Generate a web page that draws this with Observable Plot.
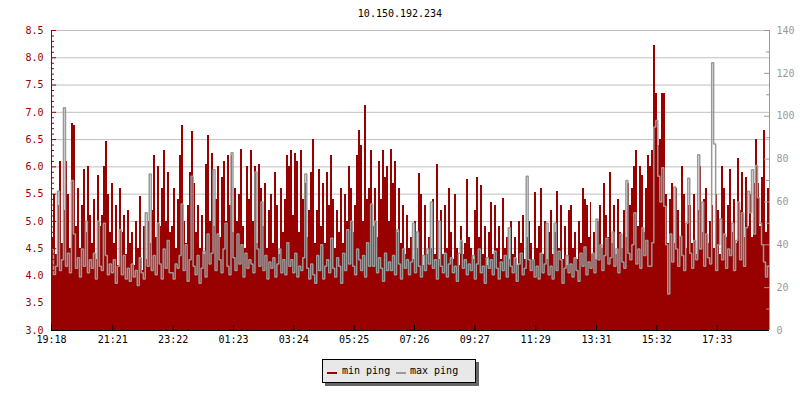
<!DOCTYPE html>
<html><head><meta charset="utf-8">
<script src="https://cdn.jsdelivr.net/npm/d3@7"></script>
<script src="https://cdn.jsdelivr.net/npm/@observablehq/plot@0.6"></script>
<style>
body{margin:0;background:#fff;}
#wrap{position:relative;width:800px;height:400px;font-family:"DejaVu Sans Mono",monospace;}
#title{position:absolute;left:0;top:8px;width:800px;text-align:center;font-size:10px;line-height:12px;color:#000;}
#legend{position:absolute;left:322px;top:359px;width:152px;height:22px;background:#e8e8e8;border:1px solid #000;box-shadow:3px 3px 0 #666;font-size:10px;}
.sw{position:absolute;top:12px;width:10px;height:2px;}
.lt{position:absolute;top:5px;line-height:12px;color:#000;}
</style>
</head><body>
<div id="wrap"><div id="title"></div><div id="chart"></div><div id="legend"></div></div>
<script>
const chartTitle = "10.150.192.234";
const startTime = "19:18";
const stepMinutes = 4;
const seriesNames = ["min ping", "max ping"];
const seriesColors = ["#990000", "#999999"];
const xTickLabels = ["19:18","21:21","23:22","01:23","03:24","05:25","07:26","09:27","11:29","13:31","15:32","17:33"];
const leftTicks = [3.0,3.5,4.0,4.5,5.0,5.5,6.0,6.5,7.0,7.5,8.0,8.5];
const rightTicks = [0,20,40,60,80,100,120,140];
const rightMinor = [10,30,50,70,90,110,130];

const minPing = [
4.7,5.5,4.4,5.3,6.1,4.6,5.2,6.1,5.5,4.5,
6.8,6.75,4.9,5.6,4.5,5.3,5.95,4.8,6.0,5.1,
4.6,5.4,4.3,5.85,4.9,5.1,6.0,6.47,5.5,4.8,
5.7,4.6,5.3,4.2,5.6,4.8,5.1,4.4,5.2,4.6,
4.8,4.2,5.0,4.5,5.45,4.1,4.9,4.3,5.0,4.6,
5.2,6.2,4.7,6.0,4.9,5.6,6.3,5.0,5.9,4.8,
4.9,5.6,4.5,5.4,6.2,6.76,5.0,4.6,5.3,5.9,
6.65,5.7,4.8,5.3,4.5,5.1,4.4,6.05,6.57,5.0,
6.24,4.9,5.4,6.0,4.7,5.8,6.1,5.0,6.2,5.3,
6.2,4.8,5.6,5.0,5.5,6.32,4.9,4.5,6.0,5.4,
6.3,5.0,6.0,4.6,6.05,5.6,4.9,5.7,4.5,5.2,
5.5,4.6,5.9,5.3,4.4,5.6,4.8,5.4,6.2,6.0,
6.3,5.1,6.25,6.1,4.8,6.3,5.4,5.7,4.7,5.2,
5.9,6.5,4.6,5.2,5.95,4.9,5.7,4.6,5.9,5.3,
6.2,5.4,4.5,5.2,4.8,5.6,4.6,5.5,5.0,6.0,
5.6,4.8,5.3,6.2,6.67,6.4,5.0,7.12,5.4,5.6,
6.3,4.9,5.6,4.7,6.1,5.4,6.3,5.8,6.0,5.0,
6.32,5.7,6.1,4.8,5.6,4.6,5.3,4.4,5.1,4.5,
4.7,4.3,5.0,4.5,5.88,5.5,4.2,5.3,4.4,4.7,
4.5,5.4,4.4,6.05,4.3,5.2,4.4,5.3,4.5,5.6,
4.8,4.3,5.5,4.5,4.2,4.9,4.4,4.6,5.77,4.7,
4.5,4.3,5.2,5.8,4.7,5.65,4.4,4.9,4.2,4.8,
5.35,4.4,5.3,4.5,4.9,4.3,5.42,4.5,4.7,4.3,
5.0,4.4,4.7,4.2,5.0,4.6,5.1,4.3,4.7,5.0,
4.6,4.3,5.53,4.5,4.9,5.6,4.4,5.0,4.3,4.8,
5.2,4.4,4.8,5.55,4.5,5.3,4.3,4.9,4.2,5.2,
5.3,4.5,4.8,4.3,5.0,4.6,5.6,5.4,5.3,4.7,
5.35,4.4,4.8,4.3,5.0,5.3,4.5,5.7,5.1,4.7,
5.9,4.6,5.3,4.4,5.4,4.8,4.5,5.2,4.7,5.7,
5.3,5.6,6.0,6.3,4.9,6.0,5.85,4.8,5.6,6.2,
6.0,6.3,8.22,7.35,6.4,6.5,7.35,7.35,5.5,4.6,
5.4,5.7,4.6,5.6,5.2,4.7,6.0,5.5,4.5,5.3,
5.3,4.6,5.5,4.4,5.2,6.0,4.8,5.4,5.6,4.6,
5.0,5.3,4.5,5.5,5.2,4.4,6.0,5.6,4.7,5.3,
5.95,4.8,5.4,4.6,6.15,5.2,5.9,4.7,5.8,4.9,
5.5,4.7,5.7,6.5,5.7,4.9,5.8,6.67,4.8,5.6
];

const maxPing = [
38,26,30,65,28,33,104,30,36,27,
70,45,29,34,25,38,30,51,27,33,
29,36,24,51,30,28,50,35,26,31,
27,33,22,30,47,26,35,24,29,23,
31,25,28,21,34,27,24,55,30,73,
28,35,26,50,31,24,38,29,42,27,
27,24,31,29,35,59,28,40,23,33,
72,30,26,35,22,29,37,25,45,31,
36,75,28,45,33,27,38,50,30,26,
83,34,28,45,31,40,25,36,29,33,
31,27,74,38,30,60,28,35,24,32,
29,34,25,31,38,27,33,26,41,30,
33,27,36,25,30,28,34,73,29,24,
31,26,22,35,28,40,24,30,33,27,
43,29,25,34,30,22,36,28,47,31,
51,30,26,38,33,28,35,25,41,30,
59,30,51,27,34,29,23,36,28,32,
28,35,26,47,31,24,38,29,33,26,
32,50,27,46,30,25,35,28,38,31,
60,29,33,24,51,30,27,36,25,31,
34,27,30,23,36,42,29,33,26,31,
28,35,24,31,38,27,30,22,34,29,
33,26,37,29,24,32,28,35,25,48,
30,27,34,23,31,36,26,29,72,33,
28,33,25,30,24,36,27,31,50,26,
30,24,50,28,37,33,22,29,35,27,
31,25,34,28,23,36,30,39,26,32,
29,36,27,52,33,40,28,35,43,31,
34,46,30,38,27,45,32,29,70,36,
33,40,55,31,38,29,48,35,42,30,
30,41,95,98,72,60,76,58,40,17,
45,32,67,38,30,44,35,28,50,71,
36,29,42,33,82,38,60,30,45,34,
31,125,87,28,40,52,33,45,29,38,
35,50,28,42,60,33,55,30,48,65,
55,75,45,77,62,50,40,32,25,30
];

// helpers
const leftMin = leftTicks[0], leftMax = leftTicks[leftTicks.length - 1];
const rightMax = rightTicks[rightTicks.length - 1];
const toLeft = v => leftMin + v * (leftMax - leftMin) / rightMax;
const parseHM = s => { const [h, m] = s.split(":").map(Number); return h * 60 + m; };
const t0 = parseHM(startTime);
const xTicks = xTickLabels.map(l => { let m = parseHM(l) - t0; if (m < 0) m += 1440; return {m, label: l}; });
const span = minPing.length * stepMinutes;
const rows = minPing.map((v, i) => ({t: i * stepMinutes, min: v, max: maxPing[i]}));
rows.push({t: span, min: minPing[minPing.length - 1], max: maxPing[maxPing.length - 1]});
const leftMinor = d3.range(Math.round(leftMin * 10), Math.round(leftMax * 10) + 1).map(d => d / 10).filter(d => Math.round(d * 10) % 5 !== 0);

const W = 800, H = 400, mL = 51, mR = 31, mT = 30, mB = 70;
const pw = W - mL - mR, ph = H - mT - mB;
const font = "DejaVu Sans Mono";
const red = seriesColors[0], gray = seriesColors[1];

const chart = Plot.plot({
  width: W, height: H,
  marginLeft: mL, marginRight: mR, marginTop: mT, marginBottom: mB,
  x: {domain: [0, span], axis: null},
  y: {domain: [leftMin, leftMax], axis: null},
  style: {fontFamily: font, fontSize: "10px", background: "#fff"},
  marks: [
    Plot.ruleY(leftTicks, {y: d => d, stroke: "#c0c0c0", strokeWidth: 1}),
    Plot.areaY(rows, {x: "t", y1: leftMin, y2: "min", curve: "step-after", fill: red, shapeRendering: "crispEdges"}),
    Plot.line(rows, {x: "t", y: d => toLeft(d.max), curve: "step-after", stroke: gray, strokeWidth: 1.5, strokeLinejoin: "miter", strokeLinecap: "butt"}),
    // left axis
    Plot.ruleX([0], {x: d => d, stroke: red}),
    Plot.ruleY(leftTicks, {y: d => d, stroke: red, insetRight: pw - 5}),
    Plot.ruleY(leftMinor, {y: d => d, stroke: red, insetRight: pw - 3}),
    Plot.text(leftTicks, {y: d => d, text: d => d.toFixed(1), frameAnchor: "left", dx: -8, textAnchor: "end", fill: red, fontSize: 10}),
    // right axis
    Plot.ruleX([span], {x: d => d, stroke: gray}),
    Plot.ruleY(rightTicks, {y: d => toLeft(d), stroke: gray, insetLeft: pw - 5}),
    Plot.ruleY(rightMinor, {y: d => toLeft(d), stroke: gray, insetLeft: pw - 3}),
    Plot.text(rightTicks, {y: d => toLeft(d), text: d => String(d), frameAnchor: "right", dx: 7, textAnchor: "start", fill: gray, fontSize: 10}),
    // bottom axis
    Plot.ruleY([leftMin], {y: d => d, stroke: "#000"}),
    Plot.ruleX(xTicks, {x: "m", stroke: "#000", insetTop: ph - 5}),
    Plot.text(xTicks, {x: "m", text: "label", frameAnchor: "bottom", dy: 12, fill: "#000", fontSize: 10})
  ]
});
document.getElementById("chart").appendChild(chart);
document.getElementById("title").textContent = chartTitle;

const lg = document.getElementById("legend");
const items = [{x: 4, tx: 19}, {x: 73, tx: 87}];
seriesNames.forEach((n, i) => {
  const s = document.createElement("div"); s.className = "sw"; s.style.left = items[i].x + "px"; s.style.background = seriesColors[i]; lg.appendChild(s);
  const t = document.createElement("div"); t.className = "lt"; t.style.left = items[i].tx + "px"; t.textContent = n; lg.appendChild(t);
});
</script>
</body></html>
